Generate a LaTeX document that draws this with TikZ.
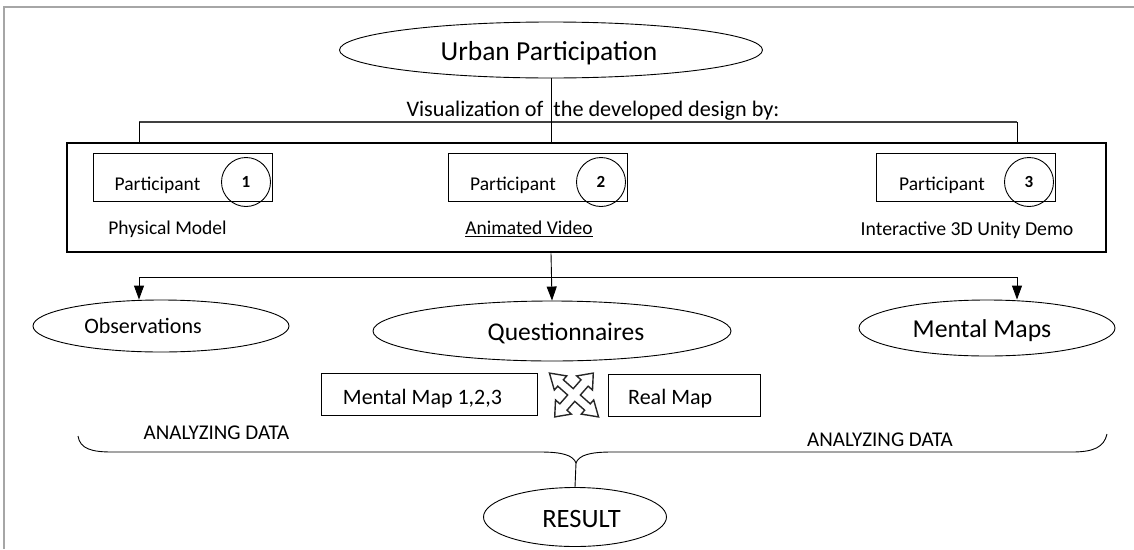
\documentclass[tikz,border=0pt]{standalone}
\usepackage{fontspec}
\setmainfont{Carlito}
\usetikzlibrary{arrows.meta,shapes.geometric,calc}

\newcommand{\fs}[1]{\fontsize{#1}{#1}\selectfont}

\begin{document}
\begin{tikzpicture}[x=1pt,y=-1pt,
  thin line/.style={line width=0.9pt},
  oval/.style={draw,ellipse,inner sep=0pt,thin line},
  pbox/.style={draw,rectangle,inner sep=0pt,thin line,minimum width=179pt,minimum height=48pt},
  mbox/.style={draw,rectangle,inner sep=0pt,thin line,minimum height=42pt},
  numc/.style={draw,circle,inner sep=0pt,thin line,minimum size=49pt,font=\fs{17}\bfseries},
  txt/.style={inner sep=0pt,anchor=base},
  link/.style={thin line},
  arr/.style={thin line,-{Triangle[length=14pt,width=10pt]}},
]
\useasboundingbox (0,0) rectangle (1134,549);

% page edge
\draw[black!35,line width=2pt] (4,549) -- (4,7) -- (1134,7);

% top ellipse and heading
\node[oval,minimum width=423pt,minimum height=56pt] (urban) at (551,50) {};
\node[txt,font=\fs{27.5}] at (549,60) {Urban Participation};
\node[txt,font=\fs{22.2}] (vis) at (593,116) {Visualization of \ the developed design by:};

% branching line to the three media
\coordinate (bl) at (139,122);
\coordinate (br) at (1017,122);
\draw[black!75,line width=1.4pt] (bl) -- (br);

% framed group of participants
\node[draw,rectangle,line width=2.8pt,inner sep=0pt,minimum width=1039pt,minimum height=109pt] (group) at (586.5,197.5) {};
\draw[link] (urban.south) -- (urban.south |- group.north);
\draw[link] (bl) -- (bl |- group.north);
\draw[link] (br) -- (br |- group.north);

\node[pbox] (p1) at (183,177) {};
\node[pbox] (p2) at (538,177) {};
\node[pbox] (p3) at (966,177) {};
\node[txt,font=\fs{19.5}] at (157.5,190.7) {Participant};
\node[txt,font=\fs{19.5}] at (513,190.7) {Participant};
\node[txt,font=\fs{19.5}] at (942,190.7) {Participant};
\node[numc] (n1) at (246,182) {1};
\node[numc] (n2) at (601,182) {2};
\node[numc] (n3) at (1029,182) {3};

\node[txt,font=\fs{19.5}] (c1) at (167.5,234.3) {Physical Model};
\node[txt,font=\fs{19.5}] (c2) at (529,234.3) {\underline{Animated Video}};
\node[txt,font=\fs{19.8}] (c3) at (967,235) {Interactive 3D Unity Demo};

% data collection methods
\node[oval,minimum width=256pt,minimum height=52pt] (obs) at (161,326) {};
\node[oval,minimum width=358pt,minimum height=60pt] (quest) at (552,331) {};
\node[oval,minimum width=256pt,minimum height=56pt] (mm) at (987,328) {};
\node[txt,font=\fs{22}] at (143,333) {Observations};
\node[txt,font=\fs{25.5}] at (566,340) {Questionnaires};
\node[txt,font=\fs{25.8}] at (982,337) {Mental Maps};

\coordinate (dl) at (139,277);
\coordinate (dr) at (1017,277);
\draw[link] (dl) -- (dr);
\draw[arr] (group.south -| urban.south) -- (quest.north);
\draw[arr] (dl) -- (dl |- obs.north);
\draw[arr] (dr) -- (dr |- mm.north);

% map comparison
\node[mbox,minimum width=216pt] (mm123) at (429,394) {};
\node[mbox,minimum width=152pt] (real) at (684,395) {};
\node[txt,font=\fs{22}] at (422.5,404) {Mental Map 1,2,3};
\node[txt,font=\fs{22},anchor=base west] at (628,404) {Real Map};

% four-headed exchange arrow
\begin{scope}[shift={(574,395)},xslant=-0.12,rotate=45,line width=1.4pt,black!85,line join=miter]
  \def\w{4.5} \def\a{17} \def\h{10} \def\L{31}
  \draw (\w,\w) -- (\a,\w) -- (\a,\h) -- (\L,0) -- (\a,-\h) -- (\a,-\w) -- (\w,-\w)
     -- (\w,-\a) -- (\h,-\a) -- (0,-\L) -- (-\h,-\a) -- (-\w,-\a) -- (-\w,-\w)
     -- (-\a,-\w) -- (-\a,-\h) -- (-\L,0) -- (-\a,\h) -- (-\a,\w) -- (-\w,\w)
     -- (-\w,\a) -- (-\h,\a) -- (0,\L) -- (\h,\a) -- (\w,\a) -- cycle;
\end{scope}

% analysis brace and result
\node[txt,font=\fs{21}] (ad1) at (216.5,439) {ANALYZING DATA};
\node[txt,font=\fs{21}] (ad2) at (880,446) {ANALYZING DATA};
\coordinate (tip) at (576,463);
\draw[link] (78,436) .. controls (80,449) and (92,452) .. (112,452) -- (540,452)
   .. controls (562,452) and (573,455) .. (tip)
   .. controls (579,455) and (590,452) .. (612,452) -- (1072,452)
   .. controls (1094,452) and (1104,447) .. (1107,434);
\node[oval,minimum width=183pt,minimum height=59pt] (result) at (575,517) {};
\node[txt,font=\fs{26.5}] at (581.5,527) {RESULT};
\draw[link] (tip) -- (result.north);
\end{tikzpicture}
\end{document}
